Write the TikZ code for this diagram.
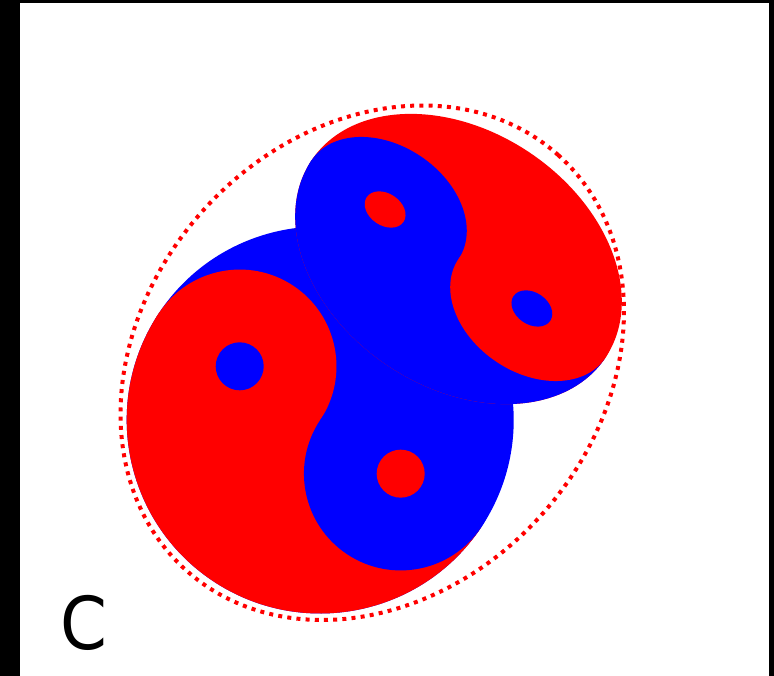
\documentclass[tikz,border=0pt]{standalone}
\usepackage{fontspec}
\newfontfamily\dejavu{DejaVu Sans}
\definecolor{yyred}{RGB}{255,0,0}
\definecolor{yyblue}{RGB}{0,0,255}
\begin{document}
\begin{tikzpicture}[x=1pt,y=1pt,
  ring/.style={draw=yyred, line width=4pt, dash pattern=on 4pt off 5.2pt},
  labeltext/.style={font=\dejavu\fontsize{73}{73}\selectfont, inner sep=0pt, anchor=base west}]
\useasboundingbox (0,0) rectangle (774,676);
\fill[black] (0,0) rectangle (774,676);
\fill[white] (20,0) rectangle (768.5,673);
% large yin-yang
\begin{scope}[shift={(320.2,256)}, rotate=146.3]
 \fill[yyblue] (0,0) circle[radius=193.5];
 \fill[yyred] (193.5,0) arc[start angle=0,end angle=180,radius=193.5] -- cycle;
 \fill[yyred] (96.75,0) circle[radius=96.75];
 \fill[yyblue] (-96.75,0) circle[radius=96.75];
 \fill[yyblue] (96.75,0) circle[radius=24];
 \fill[yyred] (-96.75,0) circle[radius=24];
\end{scope}
% small tilted yin-yang
\begin{scope}[shift={(458.5,417)}, rotate=146, xscale=177, yscale=128]
 \fill[yyred] (0,0) circle[radius=1];
 \fill[yyblue] (1,0) arc[start angle=0,end angle=180,radius=1] -- cycle;
 \fill[yyblue] (0.5,0) circle[radius=0.5];
 \fill[yyred] (-0.5,0) circle[radius=0.5];
 \fill[yyred] (0.5,0) circle[radius=0.125];
 \fill[yyblue] (-0.5,0) circle[radius=0.125];
\end{scope}
% dotted ring
\coordinate (ringc) at (372.25,313.25);
\draw[ring, rotate around={48.1:(ringc)}] (ringc) ellipse[x radius=278.8pt, y radius=227.6pt];
\node[labeltext] (label) at (60,26) {\scalebox{0.92}[1]{C}};
\end{tikzpicture}
\end{document}
